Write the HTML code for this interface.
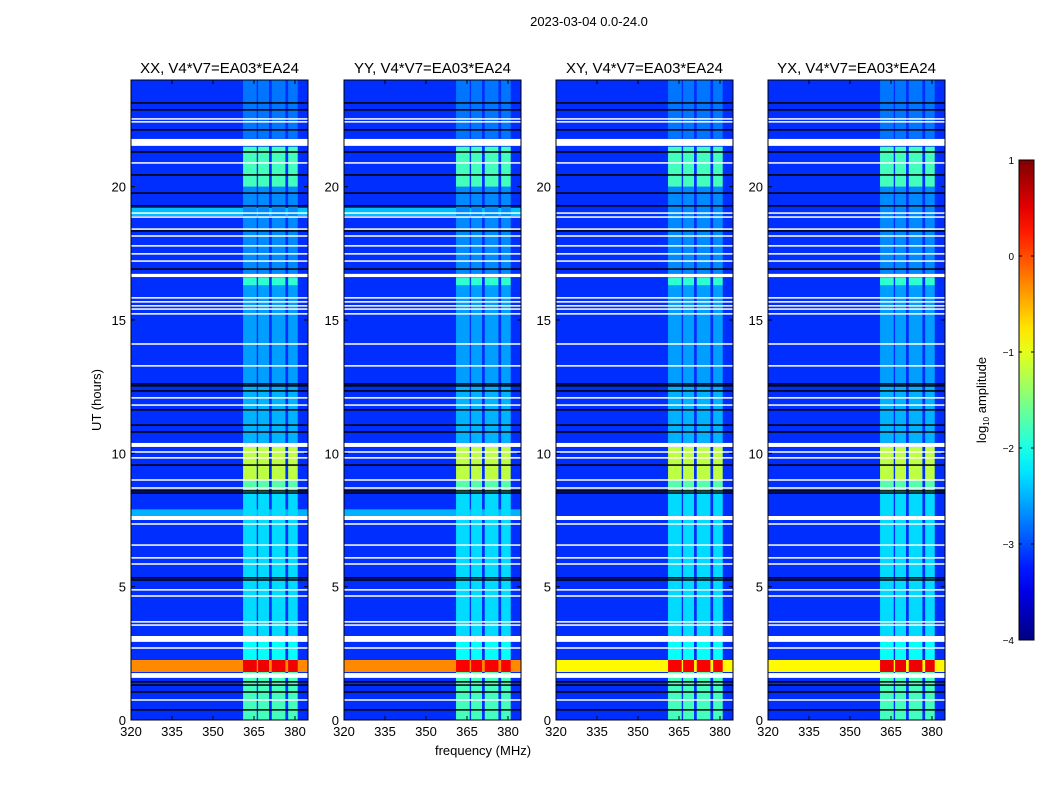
<!DOCTYPE html>
<html><head><meta charset="utf-8"><style>
body{margin:0;background:#fff;}
svg text{font-family:"Liberation Sans",sans-serif;fill:#000;}
</style></head><body>
<svg id="fig" width="1050" height="800" xmlns="http://www.w3.org/2000/svg">
<text x="589" y="26" font-size="13" text-anchor="middle">2023-03-04 0.0-24.0</text>
<text transform="translate(101,400) rotate(-90)" font-size="13" text-anchor="middle">UT (hours)</text>
<text x="483" y="755" font-size="13" text-anchor="middle">frequency (MHz)</text>
<g id="panels"></g>
<g id="cbar"></g>
</svg>
<script>
// ---- data ----
const panelTitles = ["XX, V4*V7=EA03*EA24","YY, V4*V7=EA03*EA24","XY, V4*V7=EA03*EA24","YX, V4*V7=EA03*EA24"];
const freqTicks = [320,335,350,365,380];
const hourTicks = [0,5,10,15,20];
const cbarTicks = [1,0,-1,-2,-3,-4];
const subBands = [[361,366],[366.5,370.5],[371.5,376.5],[377.5,381]];
const bgLevel = -3.15;
// band level segments: [startHour, endHour, log10 amplitude]
const bandSegments = [[0,1.6,-1.8],[1.76,1.8,-1.7],[2.25,2.95,-2.1],[3.15,7.5,-2.3],[7.65,8.55,-2.3],[8.55,9.0,-1.7],[9.0,10.24,-1.2],[10.39,12.5,-2.5],[12.5,16.3,-2.6],[16.3,16.6,-1.9],[16.73,20.0,-2.7],[20.0,21.5,-1.8],[21.8,24,-2.8]];
const rfiRange = [1.8,2.25];
const rfiBg = [-0.3,-0.3,-0.85,-0.85];
const rfiBand = [0.45,0.4,0.4,0.45];
const lightBgRows = [[7.65,7.9,-2.5],[18.9,19.2,-2.45]];
const lightBgPanels = [true,true,false,false];
const whiteThin = [22.54,22.43,20.89,19.01,18.86,18.41,18.15,17.78,17.48,17.21,15.83,15.68,15.53,15.41,15.23,14.1,13.28,12.08,11.81,10.05,9.83,9.0,8.7,7.35,6.56,6.08,5.85,4.88,4.65,3.68,3.56,2.7,0.75];
const whiteThick = [[21.53,21.79],[16.61,16.73],[10.24,10.39],[7.5,7.65],[2.93,3.15],[1.58,1.76]];
const blackLines = [23.14,22.88,22.13,21.3,20.44,19.76,19.28,18.34,16.91,12.6,12.53,12.34,11.63,11.06,10.8,9.56,8.59,8.51,5.33,5.25,1.43,1.31,1.05,0.38];

// ---- layout ----
const panelLefts = [131,344,556,768];
const PW = 177, TOP = 80, BOT = 720;
const F0 = 320, PXMHZ = 2.733;
const NS = "http://www.w3.org/2000/svg";
function yH(h){return BOT - h*(BOT-TOP)/24;}
function xF(left,f){return left + (f-F0)*PXMHZ;}
function jet(v){
  let t = (v+4)/5; t=Math.max(0,Math.min(1,t));
  const c=x=>Math.round(255*Math.max(0,Math.min(1,x)));
  const r=c(Math.min(4*t-1.5,-4*t+4.5)), g=c(Math.min(4*t-0.5,-4*t+3.5)), b=c(Math.min(4*t+0.5,-4*t+2.5));
  return `rgb(${r},${g},${b})`;
}
function mk(tag,attrs,parent){const e=document.createElementNS(NS,tag);for(const k in attrs)e.setAttribute(k,attrs[k]);parent.appendChild(e);return e;}

const G = document.getElementById('panels');
panelLefts.forEach((L,p)=>{
  const g = mk('g',{},G);
  
  
  const bg = mk('rect',{x:L,y:TOP,width:PW,height:BOT-TOP,fill:jet(bgLevel)},g);
  
  
  if(lightBgPanels[p]) lightBgRows.forEach(r=>{
    const e=mk('rect',{x:L,y:yH(r[1]),width:PW,height:yH(r[0])-yH(r[1]),fill:jet(r[2])},g);
    
    
  });
  bandSegments.forEach(s=>{
    subBands.forEach(b=>{
      const e=mk('rect',{x:xF(L,b[0]),y:yH(s[1]),width:xF(L,b[1])-xF(L,b[0]),height:yH(s[0])-yH(s[1]),fill:jet(s[2])},g);
      
      
    });
  });
  const rf=mk('rect',{x:L,y:yH(rfiRange[1]),width:PW,height:yH(rfiRange[0])-yH(rfiRange[1]),fill:jet(rfiBg[p])},g);
  
  
  subBands.forEach(b=>{
    const e=mk('rect',{x:xF(L,b[0]),y:yH(rfiRange[1]),width:xF(L,b[1])-xF(L,b[0]),height:yH(rfiRange[0])-yH(rfiRange[1]),fill:jet(rfiBand[p])},g);
    
    
  });
  whiteThick.forEach(r=>{
    const e=mk('rect',{x:L,y:yH(r[1]),width:PW,height:yH(r[0])-yH(r[1]),fill:'#fff'},g);
    
    
  });
  whiteThin.forEach(h=>{
    const e=mk('rect',{x:L,y:yH(h)-0.75,width:PW,height:1.5,fill:'#fff'},g);
    
    
  });
  blackLines.forEach(h=>{
    const e=mk('rect',{x:L,y:yH(h)-0.75,width:PW,height:1.5,fill:'#000'},g);
    
    
  });
  const fr=mk('rect',{x:L,y:TOP,width:PW,height:BOT-TOP,fill:'none',stroke:'#000','stroke-width':1},g);
  
  
  const t=mk('text',{x:L+PW/2,y:73,'font-size':15,'text-anchor':'middle'},g);
  t.textContent=panelTitles[p];
  
  
  freqTicks.forEach(f=>{
    const x=xF(L,f);
    mk('line',{x1:x,x2:x,y1:BOT,y2:BOT-4,stroke:'#000'},g);
    mk('line',{x1:x,x2:x,y1:TOP,y2:TOP+4,stroke:'#000'},g);
    const tx=mk('text',{x:x,y:BOT+16,'font-size':13,'text-anchor':'middle'},g);
    tx.textContent=f;
    
    
  });
  hourTicks.forEach(h=>{
    const y=yH(h);
    mk('line',{x1:L,x2:L+4,y1:y,y2:y,stroke:'#000'},g);
    mk('line',{x1:L+PW,x2:L+PW-4,y1:y,y2:y,stroke:'#000'},g);
    const ty=mk('text',{x:L-5,y:y+5,'font-size':13,'text-anchor':'end'},g);
    ty.textContent=h;
    
    
  });
});

// colorbar
const C = document.getElementById('cbar');
const CX=1019, CW=15, CT=160, CB=640;
const defs=mk('defs',{},C);
const lg=mk('linearGradient',{id:'jetg',x1:0,y1:1,x2:0,y2:0},defs);
for(let i=0;i<=20;i++){const v=-4+5*i/20;mk('stop',{offset:i/20,'stop-color':jet(v)},lg);}
const cb=mk('rect',{x:CX,y:CT,width:CW,height:CB-CT,fill:'url(#jetg)',stroke:'#000','stroke-width':1},C);


cbarTicks.forEach(v=>{
  const y=CB-(v+4)/5*(CB-CT);
  mk('line',{x1:CX,x2:CX+3,y1:y,y2:y,stroke:'#000'},C);
  mk('line',{x1:CX+CW,x2:CX+CW-3,y1:y,y2:y,stroke:'#000'},C);
  const t=mk('text',{x:1014,y:y+4,'font-size':10,'text-anchor':'end'},C);
  t.textContent=(v<0?'\u2212'+(-v):v);
  
  
});
const cl=mk('text',{transform:'translate(986,400) rotate(-90)','font-size':13,'text-anchor':'middle'},C);
cl.innerHTML='log<tspan font-size="8" dy="3">10</tspan><tspan dy="-3"> amplitude</tspan>';


</script>
</body></html>
